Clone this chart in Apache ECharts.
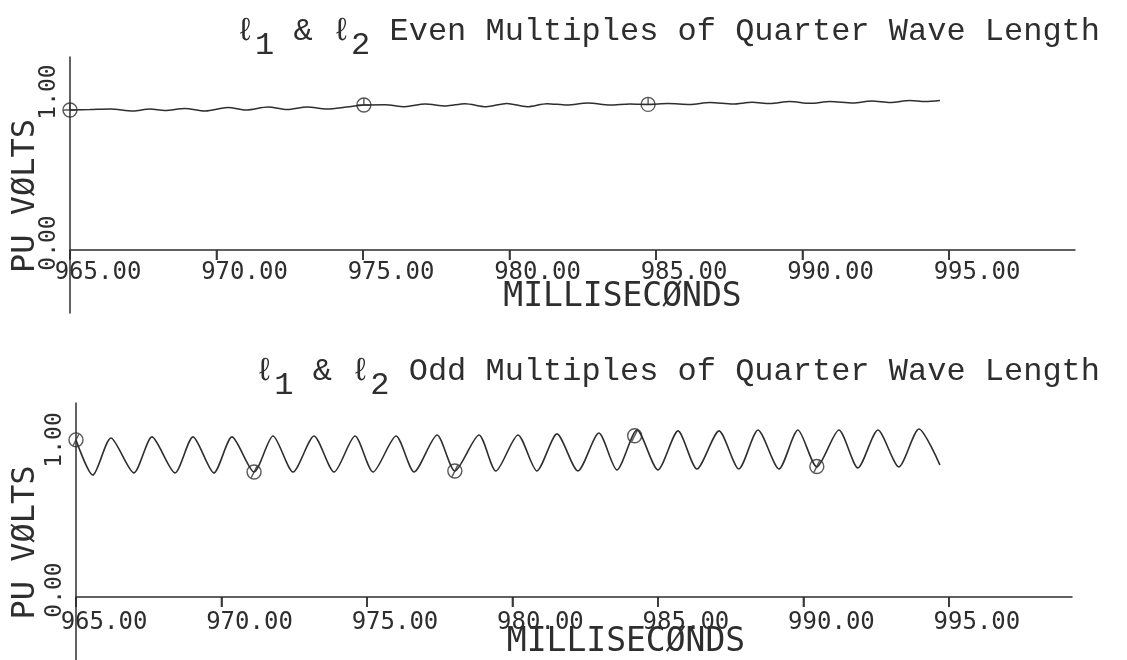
<!DOCTYPE html>
<html><head><meta charset="utf-8">
<script src="https://cdn.jsdelivr.net/npm/echarts@6/dist/echarts.min.js"></script>
<style>html,body{margin:0;padding:0;background:#fff}#c{width:1127px;height:660px}</style>
</head><body><div id="c"></div>
<script>
// ---- data ----
const topTitleText = 'Even Multiples of Quarter Wave Length';
const bottomTitleText = 'Odd Multiples of Quarter Wave Length';
const xName = 'MILLISECØNDS';
const yName = 'PU VØLTS';
const xTicks = [965, 970, 975, 980, 985, 990, 995];   // tick labels 965.00 ... 995.00
const yTicks = [0, 1];                                  // tick labels 0.00, 1.00

const evenTime = [965.00,965.68,966.37,967.15,967.73,968.24,968.92,969.61,970.39,971.01,971.76,972.41,973.09,973.77,974.45,975.03,975.75,976.43,977.12,977.83,978.48,979.20,979.91,980.60,981.28,981.96,982.68,983.43,984.11,984.73,985.41,986.16,986.84,987.63,988.28,988.89,989.57,990.26,990.94,991.72,992.37,992.99,993.67,994.18,994.69];
const evenVolts = [0.927,0.930,0.934,0.921,0.934,0.924,0.937,0.921,0.944,0.927,0.947,0.930,0.947,0.934,0.947,0.960,0.962,0.949,0.967,0.954,0.969,0.949,0.970,0.949,0.969,0.960,0.974,0.960,0.967,0.964,0.970,0.964,0.977,0.967,0.978,0.970,0.983,0.971,0.983,0.974,0.987,0.977,0.990,0.983,0.990];
const evenMarkTime = [965.00, 975.03, 984.73];
const evenMarkVolts = [0.927, 0.960, 0.964];

const oddTime = [965.00,965.58,966.20,966.99,967.61,968.40,969.02,969.74,970.36,971.12,971.77,972.46,973.18,973.87,974.59,975.21,976.00,976.62,977.41,978.02,978.85,979.43,980.19,980.84,981.53,982.25,982.97,983.59,984.28,985.00,985.69,986.34,987.10,987.78,988.44,989.16,989.81,990.46,991.22,991.87,992.56,993.28,993.97,994.69];
const oddVolts = [1.047,0.813,1.060,0.827,1.067,0.827,1.067,0.827,1.067,0.833,1.073,0.833,1.073,0.833,1.073,0.833,1.073,0.833,1.080,0.840,1.080,0.840,1.080,0.840,1.087,0.840,1.093,0.847,1.113,0.847,1.107,0.853,1.107,0.853,1.113,0.853,1.113,0.867,1.113,0.860,1.113,0.867,1.120,0.880];
const oddMarkTime = [965.00, 971.12, 978.02, 984.20, 990.46];
const oddMarkVolts = [1.047, 0.833, 0.840, 1.075, 0.870];

// ---- styling ----
const INK = '#2e2e2e';
const MONO = "'DejaVu Sans Mono', monospace";
const COURIER = "'Liberation Mono', 'Courier New', monospace";
const TICK_MID = -0.033;   // tick marks hang just below the zero line
const pairs = (a, b) => a.map((t, i) => [t, b[i]]);
const markTop = 'path://M-10,0 A10,10 0 1,0 10,0 A10,10 0 1,0 -10,0 Z M-10,0 L10,0 M0,-10 L0,0';
const markBot = 'path://M-10,0 A10,10 0 1,0 10,0 A10,10 0 1,0 -10,0 Z M-4,8 L4,-8';
const G = { outerBoundsMode: 'none' };

function titleOpt(rest, top) {
  return {
    text: '{l|ℓ}{s|1} & {l|ℓ}{s|2} ' + rest,
    right: 22, top: top,
    textStyle: {
      fontFamily: COURIER, fontSize: 32, fontWeight: 'normal', color: INK, lineHeight: 32,
      rich: {
        l: { fontFamily: COURIER, fontSize: 32, color: INK, lineHeight: 32 },
        s: { fontFamily: COURIER, fontSize: 32, color: INK, lineHeight: 32, padding: [28, 0, 0, 0] }
      }
    }
  };
}

// label grid: horizontal axis line at value 0 (grid bottom), tick labels and axis names
function labelX(idx, max, labelMargin, nameGap, namePad) {
  return {
    gridIndex: idx, type: 'value', min: 965, max: max,
    axisLine: { show: true, lineStyle: { color: INK, width: 1.5 } },
    axisTick: { show: true, customValues: xTicks, length: 10, inside: false, lineStyle: { color: INK, width: 1.5 } },
    axisLabel: {
      customValues: xTicks, formatter: v => v.toFixed(2), margin: labelMargin,
      fontFamily: MONO, fontSize: 24, color: INK, align: 'center', padding: [0, 0, 0, 56]
    },
    splitLine: { show: false },
    name: xName, nameLocation: 'middle', nameGap: nameGap, nameMoveOverlap: false,
    nameTextStyle: { fontFamily: MONO, fontSize: 33, color: INK, padding: [0, 0, 0, namePad] }
  };
}
function labelY(idx, max) {
  return {
    gridIndex: idx, type: 'value', min: 0, max: max,
    axisLine: { show: false }, axisTick: { show: false }, splitLine: { show: false },
    axisLabel: {
      customValues: yTicks, formatter: v => v.toFixed(2), rotate: 90, margin: 9,
      fontFamily: MONO, fontSize: 23, color: INK, padding: [0, 0, 0, 14]
    }
  };
}
// plot grid: full height (axis extends below zero), holds the curves, markers and tick marks
function plotX(idx, max) { return { gridIndex: idx, type: 'value', min: 965, max: max, show: false }; }
function plotY(idx, min, max, nameGap) {
  return {
    gridIndex: idx, type: 'value', min: min, max: max,
    axisLine: { show: true, onZero: false, lineStyle: { color: INK, width: 1.5 } },
    axisTick: { show: false }, axisLabel: { show: false }, splitLine: { show: false },
    name: yName, nameLocation: 'middle', nameRotate: 90, nameGap: nameGap, nameMoveOverlap: false,
    nameTextStyle: { fontFamily: MONO, fontSize: 32, color: INK, padding: [0, 22, 0, 0] }
  };
}
function tickSeries(i) {
  return {
    type: 'scatter', xAxisIndex: i, yAxisIndex: i, silent: true, z: 10,
    data: xTicks.map(t => [t, TICK_MID]),
    symbol: 'rect', symbolSize: [1.7, 10], itemStyle: { color: INK }
  };
}

const chart = echarts.init(document.getElementById('c'), null, { renderer: 'canvas' });
chart.setOption({
  animation: false,
  backgroundColor: '#ffffff',
  title: [titleOpt(topTitleText, 11), titleOpt(bottomTitleText, 351)],
  grid: [
    Object.assign({ left: 70, top: 57, width: 1005, height: 193 }, G),
    Object.assign({ left: 70, top: 57, width: 1005, height: 256 }, G),
    Object.assign({ left: 76, top: 403, width: 996, height: 194 }, G),
    Object.assign({ left: 76, top: 403, width: 996, height: 257 }, G)
  ],
  xAxis: [labelX(0, 999.30, 11, 31, 100), plotX(1, 999.30), labelX(2, 999.23, 14, 29, 104), plotX(3, 999.23)],
  yAxis: [labelY(0, 1.278), plotY(1, -0.417, 1.278, 28), labelY(2, 1.293), plotY(3, -0.42, 1.293, 34)],
  series: [
    { type: 'line', xAxisIndex: 1, yAxisIndex: 1, data: pairs(evenTime, evenVolts),
      showSymbol: false, smooth: 0.3, lineStyle: { color: INK, width: 1.5 } },
    { type: 'scatter', xAxisIndex: 1, yAxisIndex: 1, data: pairs(evenMarkTime, evenMarkVolts),
      symbol: markTop, symbolSize: 14, itemStyle: { color: 'rgba(0,0,0,0)', borderColor: INK, borderWidth: 1.4 } },
    tickSeries(1),
    { type: 'line', xAxisIndex: 3, yAxisIndex: 3, data: pairs(oddTime, oddVolts),
      showSymbol: false, smooth: 0.25, lineStyle: { color: INK, width: 1.6 } },
    { type: 'scatter', xAxisIndex: 3, yAxisIndex: 3, data: pairs(oddMarkTime, oddMarkVolts),
      symbol: markBot, symbolSize: 14, itemStyle: { color: 'rgba(0,0,0,0)', borderColor: INK, borderWidth: 1.4 } },
    tickSeries(3)
  ]
});
</script>
</body></html>
